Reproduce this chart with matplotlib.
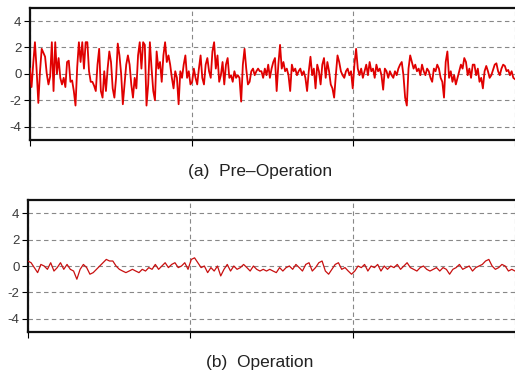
import numpy as np
import matplotlib
matplotlib.use("Agg")
import matplotlib.pyplot as plt

plt.rcParams["axes.unicode_minus"] = False
plt.rcParams["font.family"] = ["Liberation Sans", "DejaVu Sans"]

# signal values, left to right
pre_op = [
    # 0 .. ~0.75
    0.4, -1.0, 0.8, 2.4, 0.3, -2.2, 0.2, 1.9, 1.6, 1.3, 0.0, -0.8, -0.2, 2.4, -1.3, 2.4,
    0.0, 1.2, -0.3, -0.8, -0.3, -1.0, 0.9, 1.0, -0.6, -0.5, -1.3, -2.4, 0.5, 2.4, 0.9, 2.4,
    0.4, 2.4, 2.4, 0.2, -0.6, -0.6, -0.9, -1.3, 0.7, 1.9, -1.3, -1.8, 0.2, -1.3, 0.4, 1.7,
    0.9, -1.1, -1.8, -0.3, 2.3, 1.4, 0.0, -2.3, -0.8, 0.7, 1.4, 0.7, -0.8, -1.8,
    # ~0.75 .. ~1.5
    -0.3, -1.1, 1.4, 2.4, 0.4, 2.4, 2.2, -2.4, -0.8, 2.4, 0.4, -1.3, -2.0, 1.7, 0.4, 0.9,
    -0.6, 1.4, 2.4, 0.9, 1.4, 0.7, -0.3, -1.1, 0.2, -0.3, -2.3, 0.2, -0.3, 0.7, 1.4, -0.3,
    0.2, -0.8, -0.6, 0.4, -0.3, -0.8, 0.4, 1.4, -0.3, -0.8, 0.7, 1.2, 0.2, -0.3, 1.7, 2.4,
    0.4, 1.4, -0.6, -0.1, 0.9, -0.8, 0.7, 1.2, -0.3, -0.1, -0.6, 0.2, -0.3, -0.1, -0.3, -2.1,
    0.7, 1.9, 0.4, -0.8, -0.6, 0.2, 0.4, -0.1, 0.2, 0.4, 0.2,
    # ~1.5 .. ~2.25
    0.2, -0.3, 0.4, -0.1, 0.7, -0.3, 0.4, 0.9, 1.2, -1.3, 0.7, 2.2, 0.4, 0.9, 0.2, 0.4,
    -0.1, -1.3, 0.7, 0.2, 0.4, -0.1, 0.2, 0.4, -0.1, 0.2, -0.3, -1.3, 0.2, 1.3, -0.1, 0.4,
    -1.1, 0.7, 0.2, -0.8, 0.7, 1.2, -0.3, 0.9, 0.2, -0.8, -1.1, -1.8, -0.1, 1.4, 0.9, 0.2,
    -0.1, -0.3, 0.2, 0.4, -0.1, 0.2, -1.1, 0.7, 1.9, 0.4, -0.1, 0.4, -0.3, 0.2, 0.7, -0.1,
    0.9, 0.2, 0.4, -0.3, 0.7, 0.2, 0.4, -0.1, -1.2, 0.4, 0.2, -0.3,
    # ~2.25 .. 3
    0.2, -0.1, -0.3, 0.2, -0.1, 0.4, 0.7, 0.9, -0.1, -1.8, -2.4, 0.4, 1.4, 0.9, 0.4, 0.7,
    0.2, 0.4, -0.1, 0.7, 0.2, -0.1, 0.4, 0.2, -0.3, -0.6, 0.4, 0.2, 0.7, 0.4, -0.3, -0.6,
    -1.8, 0.9, 1.7, -0.3, 0.2, -0.6, -0.1, -0.8, -0.3, 0.2, 0.7, 0.4, 1.2, 0.9, -0.1, 0.4,
    -0.3, 0.7, 0.7, -0.1, 0.4, -0.6, -0.3, -1.1, 0.2, 0.6, 0.2, -0.3, -0.1, 0.3, 0.7, 0.8,
    0.2, -0.1, 0.4, 0.7, 0.6, 0.2, 0.3, -0.1, 0.2, -0.3, -0.4,
]

operation = [
    0.38, 0.25, -0.12, -0.5, 0.12, 0.0, -0.25, 0.25, -0.38, -0.12, 0.25, -0.25, 0.12, -0.25,
    -0.38, -1.0, -0.25, 0.12, -0.12, -0.62, -0.5, -0.25, 0.0, 0.25, 0.5, 0.38, 0.38, 0.0,
    -0.25, -0.38, -0.5, -0.38, -0.25, -0.38, -0.5, -0.25, -0.38, -0.12, -0.25, 0.12, -0.25,
    0.0, 0.25, -0.12, 0.12, 0.25, -0.12, 0.0, 0.25, -0.25, 0.5, 0.62, 0.25, -0.12, 0.0,
    -0.5, -0.12, -0.38, 0.0, -0.75, -0.25, 0.12, -0.38, 0.0, -0.25, -0.12, 0.12, -0.12,
    -0.38, 0.0, -0.25, -0.38, -0.25, -0.38, -0.25, -0.38, -0.5, -0.12, -0.38, -0.12, 0.0,
    -0.25, 0.12, -0.12, -0.38, 0.12, 0.25, -0.38, -0.12, 0.25, 0.38, -0.38, -0.62, -0.25,
    0.12, 0.25, -0.25, -0.12, -0.38, -0.62, -0.38, 0.0, -0.12, 0.12, -0.38, 0.0, -0.12,
    0.12, -0.38, 0.0, -0.25, 0.0, -0.12, 0.12, -0.25, 0.0, 0.25, -0.12, -0.25, -0.38,
    -0.12, 0.0, -0.25, -0.38, -0.25, -0.12, -0.38, -0.12, -0.25, -0.62, -0.25, -0.12, 0.12,
    -0.25, -0.12, 0.0, -0.38, -0.12, 0.0, 0.12, 0.38, 0.5, 0.0, -0.25, -0.12, 0.12, 0.0,
    -0.38, -0.25, -0.38,
]

y_ticks = [-4, -2, 0, 2, 4]
captions = ["(a)  Pre\u2013Operation", "(b)  Operation"]

fig = plt.figure(figsize=(5.15, 3.76), dpi=100)
ax_a = fig.add_axes([0.058, 0.628, 0.942, 0.351])
ax_b = fig.add_axes([0.054, 0.117, 0.946, 0.351])

for ax, series, lw, col in [(ax_a, pre_op, 1.3, "#e00000"), (ax_b, operation, 0.9, "#c81010")]:
    t = np.linspace(0, 3, len(series))
    ax.plot(t, series, color=col, lw=lw, zorder=3)
    ax.set_xlim(0, 3)
    ax.set_ylim(-5, 5)
    ax.set_yticks(y_ticks)
    ax.set_xticks([0, 1, 2, 3])
    ax.set_xticklabels([])
    ax.tick_params(axis="y", labelsize=9.5, labelcolor="#3a3a3a", length=4, width=0.8, pad=2)
    ax.tick_params(axis="x", length=4, width=0.8)
    ax.grid(True, linestyle=(0, (4, 3)), color="#888888", lw=0.8)
    for s in ["top", "bottom", "left"]:
        ax.spines[s].set_linewidth(1.6)
        ax.spines[s].set_color("#111111")
    ax.spines["right"].set_visible(False)

fig.text(0.505, 1 - 172 / 376, captions[0], ha="center", va="center",
         fontsize=12.5, color="#222222")
fig.text(0.505, 1 - 363 / 376, captions[1], ha="center", va="center",
         fontsize=12.5, color="#222222")

fig.savefig("out.png", dpi=100)
